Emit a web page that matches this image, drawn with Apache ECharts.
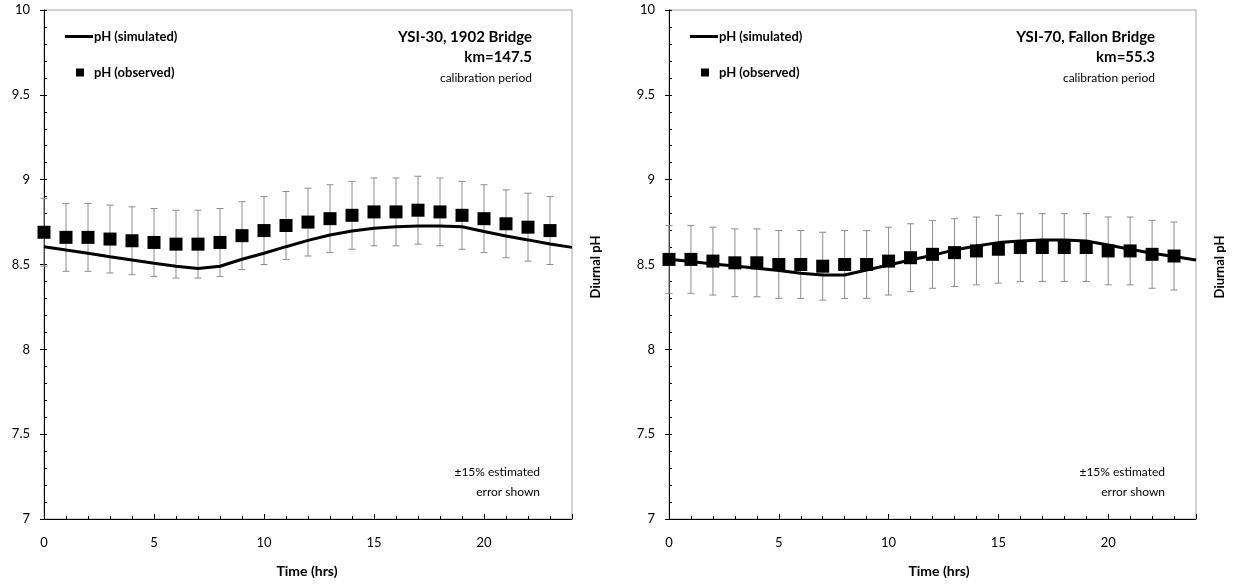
<!DOCTYPE html>
<html><head><meta charset="utf-8">
<script src="https://cdn.jsdelivr.net/npm/echarts@6/dist/echarts.min.js"></script>
<style>html,body{margin:0;padding:0;background:#fff}#c{width:1238px;height:586px}</style>
</head><body><div id="c"></div>
<script>
// ---- data ----
const hoursObs = [0,1,2,3,4,5,6,7,8,9,10,11,12,13,14,15,16,17,18,19,20,21,22,23];
const hoursSim = [0,1,2,3,4,5,6,7,8,9,10,11,12,13,14,15,16,17,18,19,20,21,22,23,24];

// Left panel: YSI-30, 1902 Bridge
const leftObs = [8.69,8.66,8.66,8.65,8.64,8.63,8.62,8.62,8.63,8.67,8.70,8.73,8.75,8.77,8.79,8.81,8.81,8.82,8.81,8.79,8.77,8.74,8.72,8.70];
const leftErr = [0.2,0.2,0.2,0.2,0.2,0.2,0.2,0.2,0.2,0.2,0.2,0.2,0.2,0.2,0.2,0.2,0.2,0.2,0.2,0.2,0.2,0.2,0.2,0.2];
const leftSim = [8.605,8.585,8.566,8.546,8.527,8.508,8.490,8.476,8.490,8.531,8.566,8.605,8.642,8.674,8.698,8.713,8.723,8.727,8.727,8.723,8.694,8.668,8.645,8.621,8.601];

// Right panel: YSI-70, Fallon Bridge
const rightObs = [8.53,8.53,8.52,8.51,8.51,8.50,8.50,8.49,8.50,8.50,8.52,8.54,8.56,8.57,8.58,8.59,8.60,8.60,8.60,8.60,8.58,8.58,8.56,8.55];
const rightErr = [0.2,0.2,0.2,0.2,0.2,0.2,0.2,0.2,0.2,0.2,0.2,0.2,0.2,0.2,0.2,0.2,0.2,0.2,0.2,0.2,0.2,0.2,0.2,0.2];
const rightSim = [8.531,8.517,8.503,8.491,8.478,8.464,8.448,8.438,8.438,8.468,8.497,8.527,8.554,8.586,8.609,8.629,8.639,8.645,8.645,8.639,8.615,8.590,8.566,8.547,8.527];

const leftTitle = ['YSI-30, 1902 Bridge', 'km=147.5', 'calibration period'];
const rightTitle = ['YSI-70, Fallon Bridge', 'km=55.3', 'calibration period'];
const noteLines = ['\u00b115% estimated', 'error shown'];
const xName = 'Time (hrs)';
const yName = 'Diurnal pH';
const simName = 'pH (simulated)';
const obsName = 'pH (observed)';

// ---- chart ----
const FONT = 'Lato, "Liberation Sans", sans-serif';
const chart = echarts.init(document.getElementById('c'), null, {renderer: 'canvas'});

function errRender(params, api) {
  const x = api.value(0), lo = api.value(1), hi = api.value(2);
  const t = api.coord([x, hi]), b = api.coord([x, lo]);
  const w = 3.5;
  const st = {stroke: '#8c8c8c', lineWidth: 1};
  return {type: 'group', children: [
    {type: 'line', shape: {x1: t[0], y1: t[1], x2: b[0], y2: b[1]}, style: st},
    {type: 'line', shape: {x1: t[0]-w, y1: t[1], x2: t[0]+w, y2: t[1]}, style: st},
    {type: 'line', shape: {x1: b[0]-w, y1: b[1], x2: b[0]+w, y2: b[1]}, style: st}
  ]};
}

function pairs(xs, ys) { return xs.map((x, i) => [x, ys[i]]); }
function errData(xs, ys, es) { return xs.map((x, i) => [x, ys[i] - es[i], ys[i] + es[i]]); }

const grids = [
  {left: 44, top: 10, width: 528, height: 509},
  {left: 669, top: 10, width: 527, height: 509}
];

function xAxesFor(gi) {
  return [
    {gridIndex: gi, type: 'value', min: 0, max: 24, interval: 1,
     axisLine: {show: true, lineStyle: {color: '#000', width: 1}},
     axisTick: {show: true, inside: true, length: 3, lineStyle: {color: '#000'}},
     axisLabel: {show: true, margin: 17, color: '#000', fontSize: 13, fontFamily: FONT,
       formatter: v => (v % 5 === 0 && v < 24) ? String(v) : ''},
     splitLine: {show: false}},
    {gridIndex: gi, type: 'value', min: 0, max: 24, interval: 5, position: 'bottom',
     axisLine: {show: false},
     axisTick: {show: true, inside: true, length: 5, lineStyle: {color: '#000'}},
     axisLabel: {show: false}, splitLine: {show: false}}
  ];
}
function yAxesFor(gi) {
  return [
    {gridIndex: gi, type: 'value', min: 7, max: 10, interval: 0.5, position: 'left',
     axisLine: {show: true, lineStyle: {color: '#000', width: 1}},
     axisTick: {show: true, inside: false, length: 4, lineStyle: {color: '#000'}},
     axisLabel: {show: true, margin: 14, color: '#000', fontSize: 13, fontFamily: FONT},
     splitLine: {show: false}},
    {gridIndex: gi, type: 'value', min: 7, max: 10, interval: 0.1, position: 'left', offset: 0,
     axisLine: {show: false},
     axisTick: {show: true, inside: true, length: 3, lineStyle: {color: '#000'}},
     axisLabel: {show: false}, splitLine: {show: false}}
  ];
}

function seriesFor(gi, obs, err, sim) {
  const xi = gi * 2, yi = gi * 2;
  return [
    {type: 'custom', name: 'error', xAxisIndex: xi, yAxisIndex: yi, renderItem: errRender,
     encode: {x: 0, y: [1, 2]}, data: errData(hoursObs, obs, err), z: 2, silent: true},
    {type: 'line', name: simName, xAxisIndex: xi, yAxisIndex: yi, data: pairs(hoursSim, sim),
     showSymbol: false, symbol: 'none', smooth: false, lineStyle: {color: '#000', width: 3},
     itemStyle: {color: '#000'}, z: 3, silent: true},
    {type: 'scatter', name: obsName, xAxisIndex: xi, yAxisIndex: yi, data: pairs(hoursObs, obs),
     symbol: 'rect', symbolSize: 13, itemStyle: {color: '#000', opacity: 1}, z: 4, silent: true}
  ];
}

function legendsFor(x0) {
  return [
    {data: [{name: simName, icon: 'rect'}], left: x0, top: 30, itemWidth: 28, itemHeight: 3,
     padding: 0, orient: 'vertical', selectedMode: false,
     textStyle: {fontFamily: FONT, fontWeight: 'bold', fontSize: 13, color: '#000', padding: [0,0,0,-4]}},
    {data: [{name: obsName, icon: 'rect', itemStyle: {opacity: 1}}], left: x0 + 11, top: 66, itemWidth: 8, itemHeight: 8,
     padding: 0, orient: 'vertical', selectedMode: false,
     textStyle: {fontFamily: FONT, fontWeight: 'bold', fontSize: 13, color: '#000', padding: [0,0,0,5]}}
  ];
}

function textEl(txt, x, y, font, align, rot) {
  return {type: 'text', x: x, y: y, rotation: rot || 0, silent: true,
    style: {text: txt, font: font, fill: '#000', align: align, verticalAlign: 'middle'}};
}

const BOLD15 = 'bold 15px ' + FONT;
const REG12 = '12px ' + FONT;
const graphics = [
  textEl(leftTitle[0], 532, 37, BOLD15, 'right'),
  textEl(leftTitle[1], 532, 57, BOLD15, 'right'),
  textEl(leftTitle[2], 532, 78, REG12, 'right'),
  textEl(noteLines[0], 540, 472, REG12, 'right'),
  textEl(noteLines[1], 540, 492, REG12, 'right'),
  textEl(rightTitle[0], 1155, 37, BOLD15, 'right'),
  textEl(rightTitle[1], 1155, 57, BOLD15, 'right'),
  textEl(rightTitle[2], 1155, 78, REG12, 'right'),
  textEl(noteLines[0], 1165, 472, REG12, 'right'),
  textEl(noteLines[1], 1165, 492, REG12, 'right'),
  textEl(xName, 307, 571, 'bold 14px ' + FONT, 'center'),
  textEl(xName, 939, 571, 'bold 14px ' + FONT, 'center'),
  textEl(yName, 596, 267, 'bold 13px ' + FONT, 'center', Math.PI / 2),
  textEl(yName, 1220, 267, 'bold 13px ' + FONT, 'center', Math.PI / 2)
];

const option = {
  animation: false,
  backgroundColor: '#fff',
  grid: grids.map(g => Object.assign({show: true, borderColor: '#a6a6a6', borderWidth: 1, backgroundColor: 'transparent', containLabel: false}, g)),
  xAxis: xAxesFor(0).concat(xAxesFor(1)),
  yAxis: yAxesFor(0).concat(yAxesFor(1)),
  legend: legendsFor(65).concat(legendsFor(690)),
  series: seriesFor(0, leftObs, leftErr, leftSim).concat(seriesFor(1, rightObs, rightErr, rightSim)),
  graphic: graphics
};
chart.setOption(option);
</script>
</body></html>
